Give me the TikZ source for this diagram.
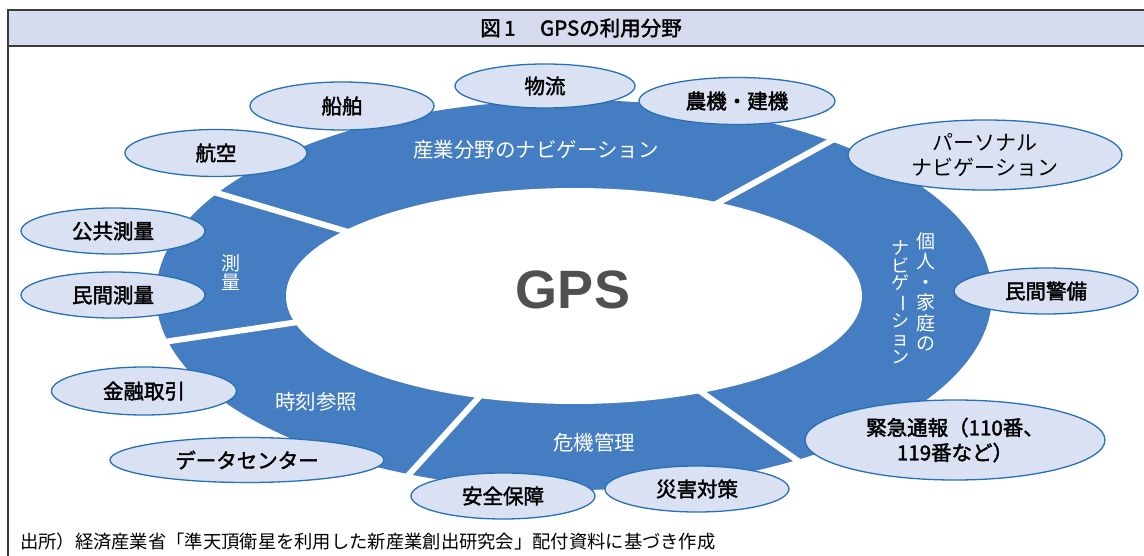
\documentclass[tikz,border=0pt]{standalone}
\usepackage{fontspec}
\setmainfont{Noto Sans CJK JP}
\newfontfamily\gpsfont{Liberation Sans}
\newfontfamily\medfont[FakeBold=2]{Noto Sans CJK JP}
\usetikzlibrary{shapes.geometric}
\definecolor{ringblue}{RGB}{68,125,193}
\definecolor{bubfill}{RGB}{218,225,242}
\definecolor{bubline}{RGB}{40,112,182}
\definecolor{titlefill}{RGB}{214,220,238}
\definecolor{framegray}{RGB}{60,60,60}
\definecolor{gpsgray}{RGB}{80,80,80}
\newcommand{\vbar}{\rotatebox[origin=c]{-90}{ー}}
\begin{document}
\begin{tikzpicture}[x=1pt,y=-1pt,
  bubble/.style={ellipse, draw=bubline, line width=1.3pt, fill=bubfill, inner sep=0pt, outer sep=0pt,
    align=center, font=\medfont\fontsize{20.5}{25}\selectfont},
  ringtext/.style={text=white, inner sep=0pt, align=center, font=\fontsize{20.5}{22}\selectfont},
  sep/.style={white, line width=6pt}]
\useasboundingbox (0,0) rectangle (1144,556);
% frame and title
\fill[titlefill] (8,10) rectangle (1144,46);
\draw[framegray, line width=1.5pt] (1144,10) -- (8,10) -- (8,556);
\draw[framegray, line width=1.5pt] (8,46) -- (1144,46);
\node[font=\medfont\fontsize{20.5}{22}\selectfont, inner sep=0pt] (title) at (581,28) {図\,1\hspace{1.2em}GPSの利用分野};
% ring
\node[ellipse, fill=ringblue, minimum width=836pt, minimum height=390pt, inner sep=0pt, outer sep=0pt] (ring) at (574,295) {};
\node[ellipse, fill=white, minimum width=576pt, minimum height=216pt, inner sep=0pt, outer sep=0pt] (gps) at (574,296) {};
\node[font=\gpsfont\bfseries\fontsize{54}{60}\selectfont, text=gpsgray, inner sep=0pt] (gpstext) at (573,290) {GPS};
% separators
\draw[sep] (845,133) -- (705,210);
\draw[sep] (200,188) -- (355,234);
\draw[sep] (150,344) -- (305,321);
\draw[sep] (490,385) -- (395,490);
\draw[sep] (690,384) -- (812,471);
% ring labels
\node[ringtext] (sangyo) at (536,150) {産業分野のナビゲーション};
\node[ringtext, font=\fontsize{19}{19}\selectfont] (sokuryo) at (231,273) {測\\量};
\node[ringtext, font=\fontsize{19}{20.5}\selectfont] (kojin) at (926,292) {個\\人\\・\\家\\庭\\の};
\node[ringtext, font=\fontsize{18}{17.7}\selectfont] (kojinnavi) at (900,302) {ナ\\ビ\\ゲ\\\vbar\\シ\\ョ\\ン};
\node[ringtext] (jikoku) at (316,402) {時刻参照};
\node[ringtext] (kiki) at (594,443) {危機管理};
% bubbles
\node[bubble, minimum width=182pt, minimum height=47pt] (kouku) at (216,153) {航空};
\node[bubble, minimum width=184pt, minimum height=48pt] (senpaku) at (342,106) {船舶};
\node[bubble, minimum width=180pt, minimum height=44pt] (butsuryu) at (545,86) {物流};
\node[bubble, minimum width=196pt, minimum height=47pt] (nouki) at (737,101) {農機・建機};
\node[bubble, minimum width=274pt, minimum height=70pt, font=\fontsize{21}{25}\selectfont] (personal) at (985,155) {パーソナル\\ナビゲーション};
\node[bubble, minimum width=184pt, minimum height=46pt] (minkeibi) at (1046,291) {民間警備};
\node[bubble, minimum width=300pt, minimum height=80pt] (kinkyu) at (955,440) {緊急通報（110番、\\119番など）};
\node[bubble, minimum width=184pt, minimum height=46pt] (saigai) at (697,489) {災害対策};
\node[bubble, minimum width=184pt, minimum height=46pt] (anzen) at (503,496) {安全保障};
\node[bubble, minimum width=274pt, minimum height=45pt] (datacenter) at (247,460) {データセンター};
\node[bubble, minimum width=185pt, minimum height=48pt] (kinyu) at (144,391) {金融取引};
\node[bubble, minimum width=184pt, minimum height=46pt] (minkan) at (113,295) {民間測量};
\node[bubble, minimum width=184pt, minimum height=46pt] (kokyo) at (113,231) {公共測量};
% source note
\node[anchor=west, inner sep=0pt, font=\fontsize{18.3}{20}\selectfont] (source) at (20,542) {出所）経済産業省「準天頂衛星を利用した新産業創出研究会」配付資料に基づき作成};
\end{tikzpicture}
\end{document}
